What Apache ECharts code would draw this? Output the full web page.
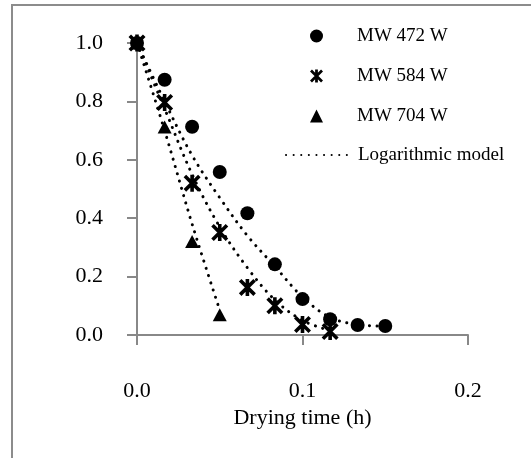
<!DOCTYPE html>
<html>
<head>
<meta charset="utf-8">
<script src="https://cdn.jsdelivr.net/npm/echarts@6/dist/echarts.min.js"></script>
<style>html,body{margin:0;padding:0;background:#fff}#c{width:531px;height:458px}</style>
</head>
<body>
<div id="c"></div>
<script>
// Drying time (h): measurements every minute
var timeH = [0, 0.0167, 0.0333, 0.05, 0.0667, 0.0833, 0.1, 0.1167, 0.1333, 0.15];
var mr472 = [1.0, 0.874, 0.713, 0.558, 0.417, 0.242, 0.123, 0.054, 0.034, 0.031];
var mr584 = [1.0, 0.796, 0.52, 0.351, 0.163, 0.10, 0.036, 0.012];
var mr704 = [1.0, 0.712, 0.32, 0.069];
var model472 = [1.0, 0.80, 0.615, 0.47, 0.34, 0.235, 0.13, 0.06, 0.036, 0.03];
var model584 = [1.0, 0.775, 0.55, 0.37, 0.23, 0.12, 0.05, 0.015];
var model704 = [1.0, 0.70, 0.38, 0.085];
var xTicks = [0, 0.1, 0.2];
var yTicks = [0, 0.2, 0.4, 0.6, 0.8, 1.0];
var seriesNames = ['MW 472 W', 'MW 584 W', 'MW 704 W', 'Logarithmic model'];

function pairs(vals) { return vals.map(function (v, i) { return [timeH[i], v]; }); }

var asterisk = 'path://M-1.7,-8L1.7,-8L1.7,8L-1.7,8Z M-8,-5.6L-5.6,-8L8,5.6L5.6,8Z M5.6,-8L8,-5.6L-5.6,8L-8,5.6Z';
var font = 'Liberation Serif';
var dotted = { color: '#000', width: 3, type: [0.1, 7.5], cap: 'round' };

function modelSeries(vals) {
  return {
    name: seriesNames[3], type: 'line', data: pairs(vals), smooth: 0.35,
    symbol: 'none', lineStyle: dotted, itemStyle: { color: '#000' }, z: 3, silent: true
  };
}

var chart = echarts.init(document.getElementById('c'), null, { renderer: 'canvas' });
chart.setOption({
  animation: false,
  backgroundColor: '#fff',
  graphic: [{
    type: 'rect', shape: { x: 12, y: 5, width: 700, height: 700 },
    style: { fill: 'none', stroke: '#8c8c8c', lineWidth: 2 }, silent: true, z: -10
  }],
  grid: { left: 137, right: 63, top: 43, bottom: 123, containLabel: false },
  legend: [{
    orient: 'vertical', left: 310, top: 25, padding: 0, itemWidth: 13, itemHeight: 13, itemGap: 18,
    textStyle: { fontFamily: font, fontSize: 19, color: '#000', lineHeight: 22, padding: [0, 0, 0, 29] },
    data: [
      { name: seriesNames[0] },
      { name: seriesNames[1] },
      { name: seriesNames[2] }
    ]
  }, {
    orient: 'vertical', left: 285, top: 144, padding: 0, itemWidth: 62, itemHeight: 13,
    textStyle: { fontFamily: font, fontSize: 19, color: '#000', lineHeight: 22, padding: [0, 0, 0, 5] },
    data: [{ name: seriesNames[3], itemStyle: { opacity: 0 } }]
  }],
  xAxis: {
    type: 'value', min: xTicks[0], max: xTicks[xTicks.length - 1], interval: 0.1,
    name: 'Drying time (h)', nameLocation: 'middle', nameGap: 70,
    nameTextStyle: { fontFamily: font, fontSize: 22, color: '#000' },
    axisLine: { lineStyle: { color: '#888', width: 2 } },
    axisTick: { show: true, inside: false, length: 10, lineStyle: { color: '#888', width: 2 } },
    axisLabel: { fontFamily: font, fontSize: 22, color: '#000', margin: 45,
      formatter: function (v) { return v.toFixed(1); } },
    splitLine: { show: false }
  },
  yAxis: {
    type: 'value', min: yTicks[0], max: yTicks[yTicks.length - 1], interval: 0.2,
    axisLine: { show: true, lineStyle: { color: '#888', width: 2 } },
    axisTick: { show: true, inside: false, length: 10, lineStyle: { color: '#888', width: 2 } },
    axisLabel: { fontFamily: font, fontSize: 22, color: '#000', margin: 34,
      formatter: function (v) { return v.toFixed(1); } },
    splitLine: { show: false }
  },
  series: [
    { name: seriesNames[0], type: 'scatter', data: pairs(mr472), symbol: 'circle', symbolSize: 14,
      itemStyle: { color: '#000', opacity: 1 }, z: 4 },
    { name: seriesNames[1], type: 'scatter', data: pairs(mr584), symbol: asterisk, symbolSize: 17,
      itemStyle: { color: '#000', opacity: 1 }, z: 4 },
    { name: seriesNames[2], type: 'scatter', data: pairs(mr704), symbol: 'triangle', symbolSize: [14, 13],
      itemStyle: { color: '#000', opacity: 1 }, z: 4 },
    modelSeries(model472),
    modelSeries(model584),
    modelSeries(model704)
  ]
});
</script>
</body>
</html>
